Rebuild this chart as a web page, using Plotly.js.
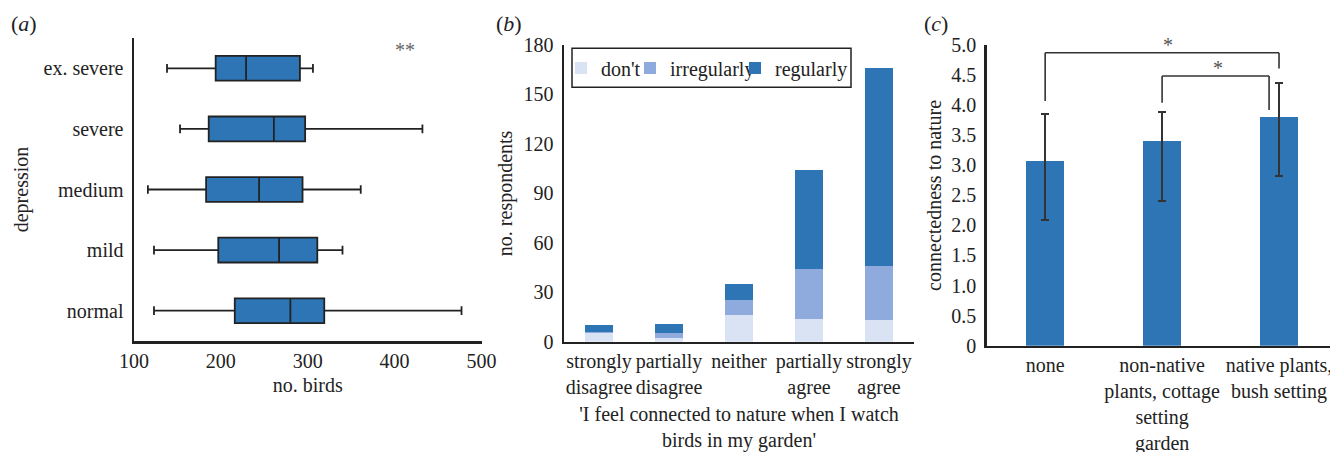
<!DOCTYPE html>
<html>
<head>
<meta charset="utf-8">
<script src="https://cdn.plot.ly/plotly-3.0.1.min.js"></script>
<style>
html,body{margin:0;padding:0;background:#fff;}
#chart{width:1330px;height:452px;}
#chart svg text{font-family:"Times New Roman","Liberation Serif",serif !important;}
</style>
</head>
<body>
<div id="chart"></div>
<script>
// ---- Panel (a): number of birds by depression level (box plot) ----
const depressionLevels = ['normal', 'mild', 'medium', 'severe', 'ex. severe'];
const birdsLowerFence = [123, 123, 116, 153, 138];
const birdsQ1 = [216, 197, 183, 186, 194];
const birdsMedian = [280, 267, 244, 261, 229];
const birdsQ3 = [319, 311, 294, 297, 291];
const birdsUpperFence = [477, 340, 361, 432, 306];
const birdsTicks = [100, 200, 300, 400, 500];

// ---- Panel (b): respondents by agreement (stacked bars) ----
const agreementCats = ['strongly<br>disagree', 'partially<br>disagree', 'neither', 'partially<br>agree', 'strongly<br>agree'];
const feedDont = [5, 2, 16, 14, 13];
const feedIrregularly = [1, 3, 9, 30, 33];
const feedRegularly = [4, 6, 10, 60, 120];
const respondentTicks = [0, 30, 60, 90, 120, 150, 180];

// ---- Panel (c): connectedness to nature by garden type ----
const gardenTypes = ['none', 'non-native<br>plants, cottage<br>setting<br>garden', 'native plants,<br>bush setting'];
const connectedness = [3.07, 3.40, 3.80];
const errPlus = [0.78, 0.49, 0.57];
const errMinus = [0.98, 0.99, 0.98];
const connTickVals = [0, 0.5, 1, 1.5, 2, 2.5, 3, 3.5, 4, 4.5, 5];
const connTickText = ['0', '0.5', '1.0', '1.5', '2.0', '2.5', '3.0', '3.5', '4.0', '4.5', '5.0'];

const W = 1330, H = 452;
const px = v => v / W;
const py = v => 1 - v / H;

const FONT = 'Times New Roman';
const TXT = '#222222';
const BLUE = '#2E75B6';
const FS = 20;
const F = (size, color) => ({family: FONT, size: size || FS, color: color || TXT});
const axisBase = () => ({showline: true, linecolor: '#222', linewidth: 2.5, showgrid: false, zeroline: false, ticks: '', tickfont: F(FS)});

const traces = [
  {
    type: 'box', orientation: 'h', xaxis: 'x', yaxis: 'y',
    y: depressionLevels, q1: birdsQ1, median: birdsMedian, q3: birdsQ3,
    lowerfence: birdsLowerFence, upperfence: birdsUpperFence,
    fillcolor: BLUE, line: {color: '#222', width: 1.8},
    width: 0.41, whiskerwidth: 0.35, showlegend: false, hoverinfo: 'skip'
  },
  {type: 'bar', name: "don't", legend: 'legend', x: agreementCats, y: feedDont, xaxis: 'x2', yaxis: 'y2', width: 0.39,
   marker: {color: '#DAE3F3', line: {width: 0}}, hoverinfo: 'skip'},
  {type: 'bar', name: 'irregularly', legend: 'legend2', x: agreementCats, y: feedIrregularly, xaxis: 'x2', yaxis: 'y2', width: 0.39,
   marker: {color: '#8FAADC', line: {width: 0}}, hoverinfo: 'skip'},
  {type: 'bar', name: 'regularly', legend: 'legend3', x: agreementCats, y: feedRegularly, xaxis: 'x2', yaxis: 'y2', width: 0.39,
   marker: {color: BLUE, line: {width: 0}}, hoverinfo: 'skip'},
  {type: 'bar', x: gardenTypes, y: connectedness, xaxis: 'x3', yaxis: 'y3', width: 0.325,
   marker: {color: BLUE, line: {width: 0}}, showlegend: false, hoverinfo: 'skip',
   error_y: {type: 'data', symmetric: false, array: errPlus, arrayminus: errMinus, color: '#333', thickness: 1.8, width: 4}}
];

const sigLine = (x0, y0, x1, y1) => ({type: 'line', xref: 'x3', yref: 'y3', x0, y0, x1, y1, line: {color: '#333', width: 1.6}});
const legendAt = x => ({
  orientation: 'h', x: px(x), y: py(68), xanchor: 'left', yanchor: 'middle',
  borderwidth: 0, bgcolor: 'rgba(255,255,255,0)', font: F(FS), itemwidth: 30
});

const layout = {
  width: W, height: H,
  margin: {l: 0, r: 0, t: 0, b: 0},
  paper_bgcolor: '#fff', plot_bgcolor: '#fff',
  font: F(FS),
  barmode: 'stack',
  showlegend: true,
  legend: legendAt(561),
  legend2: legendAt(630),
  legend3: legendAt(735),
  xaxis: Object.assign(axisBase(), {domain: [px(134), px(481.5)], range: [100, 500], tickvals: birdsTicks,
    title: {text: 'no. birds', font: F(FS), standoff: 8}, anchor: 'y'}),
  yaxis: Object.assign(axisBase(), {domain: [py(341), py(38)], type: 'category', range: [-0.5, 4.5],
    categoryorder: 'array', categoryarray: depressionLevels, ticklabelstandoff: 4,
    title: {text: 'depression', font: F(FS), standoff: 10}, anchor: 'x'}),
  xaxis2: Object.assign(axisBase(), {domain: [px(564), px(914)], type: 'category', range: [-0.5, 4.5], anchor: 'y2',
    title: {text: "'I feel connected to nature when I watch<br>birds in my garden'", font: F(FS), standoff: 17}}),
  yaxis2: Object.assign(axisBase(), {domain: [py(341.7), py(45)], range: [0, 180], tickvals: respondentTicks, anchor: 'x2',
    ticklabelstandoff: 4,
    title: {text: 'no. respondents', font: F(FS), standoff: 6}}),
  xaxis3: Object.assign(axisBase(), {domain: [px(986.7), 1], type: 'category', range: [-0.5, 2.436], anchor: 'y3'}),
  yaxis3: Object.assign(axisBase(), {domain: [py(345.7), py(45)], range: [0, 5], tickvals: connTickVals, ticktext: connTickText, anchor: 'x3',
    ticklabelstandoff: 4,
    title: {text: 'connectedness to nature', font: F(FS), standoff: 4}}),
  shapes: [
    {type: 'rect', xref: 'paper', yref: 'paper', x0: px(572), x1: px(851), y0: py(87.3), y1: py(48.3),
     line: {color: '#222', width: 1.5}, fillcolor: 'rgba(0,0,0,0)'},
    sigLine(0, 4.07, 0, 4.87), sigLine(0, 4.87, 2.0, 4.87), sigLine(2.0, 4.87, 2.0, 4.61),
    sigLine(1.0, 4.04, 1.0, 4.485), sigLine(1.0, 4.485, 1.915, 4.485), sigLine(1.915, 4.485, 1.915, 3.92)
  ],
  annotations: [
    {text: '(<i>a</i>)', xref: 'paper', yref: 'paper', x: px(24), y: py(24), xanchor: 'center', yanchor: 'middle', showarrow: false, font: F(22)},
    {text: '(<i>b</i>)', xref: 'paper', yref: 'paper', x: px(509), y: py(24), xanchor: 'center', yanchor: 'middle', showarrow: false, font: F(22)},
    {text: '(<i>c</i>)', xref: 'paper', yref: 'paper', x: px(936), y: py(24), xanchor: 'center', yanchor: 'middle', showarrow: false, font: F(22)},
    {text: '**', xref: 'x', yref: 'paper', x: 412, y: py(50), xanchor: 'center', yanchor: 'middle', showarrow: false, font: F(FS, '#666')},
    {text: '*', xref: 'x3', yref: 'y3', x: 1.05, y: 5.0, xanchor: 'center', yanchor: 'middle', showarrow: false, font: F(FS, '#555')},
    {text: '*', xref: 'x3', yref: 'y3', x: 1.48, y: 4.62, xanchor: 'center', yanchor: 'middle', showarrow: false, font: F(FS, '#555')}
  ]
};

Plotly.newPlot('chart', traces, layout, {staticPlot: true, displayModeBar: false});
</script>
</body>
</html>
